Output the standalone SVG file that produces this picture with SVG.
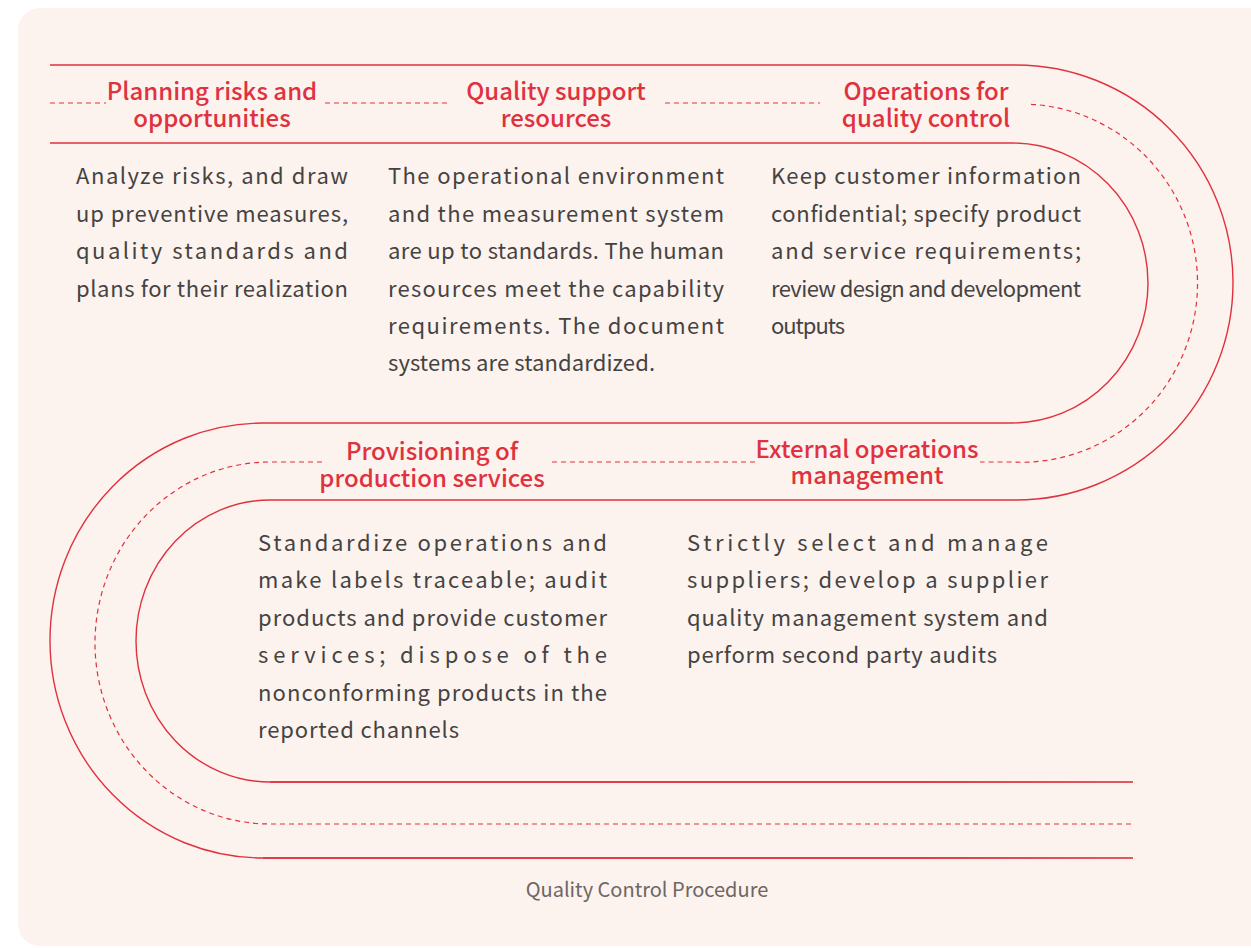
<svg xmlns="http://www.w3.org/2000/svg" width="1251" height="948" viewBox="0 0 1251 948">
<defs>
<style>
.ln{fill:none;stroke:#e0323e;stroke-width:1.4}
.ds{fill:none;stroke:#e0323e;stroke-width:1.2;stroke-dasharray:5 4}
.fd{stroke:url(#fade)}
.hd{font-family:"Noto Sans CJK SC","Noto Sans",sans-serif;font-size:24px;font-weight:500;fill:#e0323e;text-anchor:middle}
.bd{font-family:"Noto Sans CJK SC","Noto Sans",sans-serif;font-size:22px;fill:#454342}
.cap{font-family:"Noto Sans CJK SC","Noto Sans",sans-serif;font-size:20px;fill:#6e6663;text-anchor:middle}
</style>
<linearGradient id="fade" gradientUnits="userSpaceOnUse" x1="930" y1="0" x2="1133" y2="0">
<stop offset="0" stop-color="#e0323e" stop-opacity="1"/>
<stop offset="1" stop-color="#e0323e" stop-opacity="0.3"/>
</linearGradient>
</defs>
<rect x="0" y="0" width="1251" height="948" fill="#ffffff"/>
<rect x="18" y="8" width="1260" height="938" rx="22" fill="#fcf2ee"/>
<g id="connectors">
<path class="ln" d="M50 65 H1016 A217 217.5 0 0 1 1016 500 H270 A134 141 0 0 0 270 782 H1133"/>
<path class="ln fd" d="M270 782 H1133"/>
<path class="ln" d="M50 143 H1012 A136 140 0 0 1 1012 423 H263 A213 217.5 0 0 0 263 858 H1133"/>
<path class="ln fd" d="M263 858 H1133"/>
<path class="ds" d="M50 103 H106 M325 103 H447 M665 103 H820"/>
<path class="ds" d="M1031 104.3 A176 179 0 0 1 1012 462 H980"/>
<path class="ds" d="M552 462 H756"/>
<path class="ds" d="M322 462 H270 A175 181 0 0 0 270 824 H1133"/>
</g>
<g id="node-planning">
<text class="hd" x="212" y="100">Planning risks and</text>
<text class="hd" x="212" y="127">opportunities</text>
<text class="bd" x="76" y="184" textLength="272" lengthAdjust="spacing">Analyze risks, and draw</text>
<text class="bd" x="76" y="222" textLength="272" lengthAdjust="spacing">up preventive measures,</text>
<text class="bd" x="76" y="259" textLength="272" lengthAdjust="spacing">quality standards and</text>
<text class="bd" x="76" y="297" textLength="272" lengthAdjust="spacing">plans for their realization</text>
</g>
<g id="node-support">
<text class="hd" x="556" y="100">Quality support</text>
<text class="hd" x="556" y="127">resources</text>
<text class="bd" x="388" y="184" textLength="336" lengthAdjust="spacing">The operational environment</text>
<text class="bd" x="388" y="222" textLength="336" lengthAdjust="spacing">and the measurement system</text>
<text class="bd" x="388" y="259" textLength="336" lengthAdjust="spacing">are up to standards. The human</text>
<text class="bd" x="388" y="297" textLength="336" lengthAdjust="spacing">resources meet the capability</text>
<text class="bd" x="388" y="334" textLength="336" lengthAdjust="spacing">requirements. The document</text>
<text class="bd" x="388" y="371" textLength="267" lengthAdjust="spacing">systems are standardized.</text>
</g>
<g id="node-operations">
<text class="hd" x="926" y="100">Operations for</text>
<text class="hd" x="926" y="127">quality control</text>
<text class="bd" x="771" y="184" textLength="310" lengthAdjust="spacing">Keep customer information</text>
<text class="bd" x="771" y="222" textLength="310" lengthAdjust="spacing">confidential; specify product</text>
<text class="bd" x="771" y="259" textLength="310" lengthAdjust="spacing">and service requirements;</text>
<text class="bd" x="771" y="297" textLength="310" lengthAdjust="spacing">review design and development</text>
<text class="bd" x="771" y="334" textLength="74" lengthAdjust="spacing">outputs</text>
</g>
<g id="node-external">
<text class="hd" x="867" y="458">External operations</text>
<text class="hd" x="867" y="484">management</text>
<text class="bd" x="687" y="551" textLength="361" lengthAdjust="spacing">Strictly select and manage</text>
<text class="bd" x="687" y="588" textLength="361" lengthAdjust="spacing">suppliers; develop a supplier</text>
<text class="bd" x="687" y="626" textLength="361" lengthAdjust="spacing">quality management system and</text>
<text class="bd" x="687" y="663" textLength="310" lengthAdjust="spacing">perform second party audits</text>
</g>
<g id="node-provisioning">
<text class="hd" x="432" y="460">Provisioning of</text>
<text class="hd" x="432" y="487">production services</text>
<text class="bd" x="258" y="551" textLength="349" lengthAdjust="spacing">Standardize operations and</text>
<text class="bd" x="258" y="588" textLength="349" lengthAdjust="spacing">make labels traceable; audit</text>
<text class="bd" x="258" y="626" textLength="349" lengthAdjust="spacing">products and provide customer</text>
<text class="bd" x="258" y="663" textLength="349" lengthAdjust="spacing">services; dispose of the</text>
<text class="bd" x="258" y="701" textLength="349" lengthAdjust="spacing">nonconforming products in the</text>
<text class="bd" x="258" y="738" textLength="201" lengthAdjust="spacing">reported channels</text>
</g>
<text class="cap" x="647" y="897">Quality Control Procedure</text>
</svg>
